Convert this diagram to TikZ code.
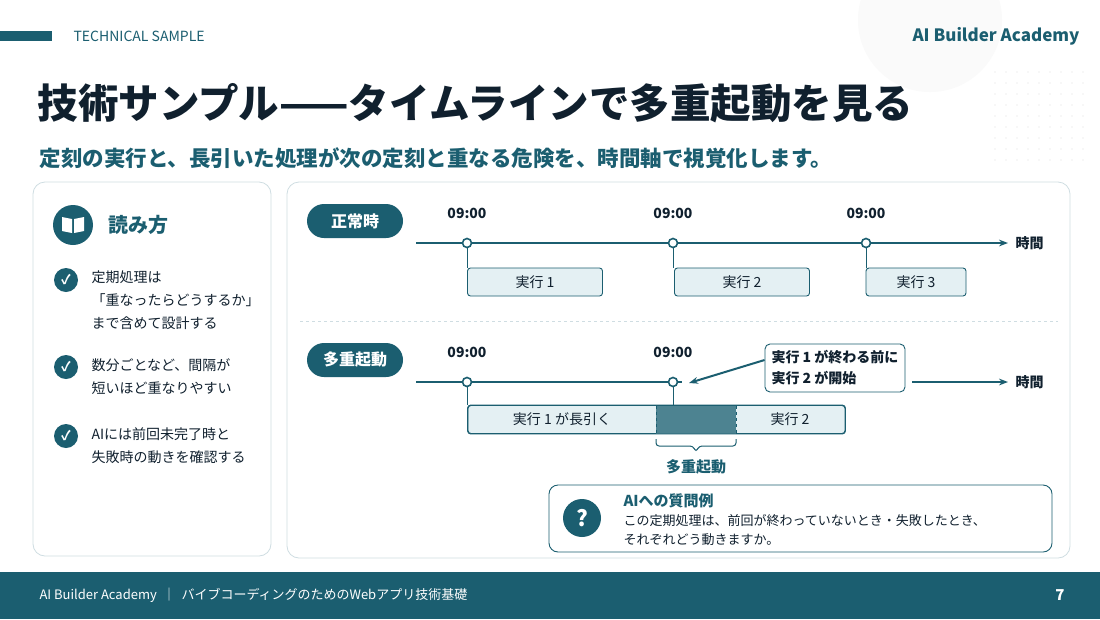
\documentclass[tikz,border=0pt]{standalone}
\usepackage{fontspec}
\setmainfont{Noto Sans CJK JP}
\usetikzlibrary{positioning,arrows.meta}
\definecolor{teal}{HTML}{1B5E70}
\definecolor{pale}{HTML}{E4F0F3}
\definecolor{navy}{HTML}{10202E}
\definecolor{rim}{HTML}{CFDDE2}
\begin{document}
\begin{tikzpicture}[x=1pt,y=-1pt,
        panel/.style = {draw=rim, rounded corners=12pt, fill=white, line width=0.8pt},
        pill/.style = {fill=teal, text=white, rounded corners=17pt, minimum width=96pt, minimum height=34pt, font=\bfseries\fontsize{16}{16}\selectfont},
        tick/.style = {circle, draw=teal, fill=white, line width=1.6pt, inner sep=0pt, minimum size=9pt},
        tlabel/.style = {font=\bfseries\fontsize{14}{14}\selectfont, text=navy},
        run/.style = {draw=teal, fill=pale, rounded corners=3pt, line width=0.9pt, minimum height=28pt, font=\fontsize{14}{14}\selectfont, text=navy},
        chk/.style = {circle, fill=teal, text=white, inner sep=0pt, minimum size=24pt, font=\bfseries\fontsize{13}{13}\selectfont},
        item/.style = {anchor=north west, align=left, font=\fontsize{14}{23}\selectfont, text=navy},
        axis/.style = {draw=teal, line width=2pt},
    ]
    \useasboundingbox (0,0) rectangle (1100,619);
    \fill[white] (0,0) rectangle (1100,619);
    \fill[gray!4] (930,20) circle (72);
    \foreach \i in {0,...,8} {\foreach \j in {0,...,8} {\fill[gray!25] (995+\i*11,72+\j*11) circle (0.7);}}
    % header
    \fill[teal] (0,31) rectangle (52,41);
    \node[anchor=west, text=teal, font=\fontsize{14}{14}\selectfont] (tag) at (70,36) {TECHNICAL SAMPLE};
    \node[anchor=east, text=teal, font=\bfseries\fontsize{17}{17}\selectfont] (brand) at (1083,36) {AI Builder Academy};
    \node[anchor=west, text=navy, font=\bfseries\fontsize{40.5}{40}\selectfont] (title) at (34,103) {技術サンプル——タイムラインで多重起動を見る};
    \node[anchor=west, text=teal, font=\bfseries\fontsize{21.5}{22}\selectfont] (sub) at (36,158) {定刻の実行と、長引いた処理が次の定刻と重なる危険を、時間軸で視覚化します。};
    % left panel
    \draw[panel] (33,182) rectangle (271,556);
    \node[circle, fill=teal, minimum size=40pt] (book) at (73,225) {};
    \fill[white] (62,217) -- (72,219) -- (72,233) -- (62,231) -- cycle (84,217) -- (74,219) -- (74,233) -- (84,231) -- cycle;
    \node[right=12pt of book, text=teal, font=\bfseries\fontsize{20}{20}\selectfont] (how) {読み方};
    \node[chk] (c1) at (66,280) {✓};
    \node[chk] (c2) at (66,367) {✓};
    \node[chk] (c3) at (66,436) {✓};
    \node[item] (t1) at (88,267) {定期処理は\\「重なったらどうするか」\\まで含めて設計する};
    \node[item] (t2) at (88,355) {数分ごとなど、間隔が\\短いほど重なりやすい};
    \node[item] (t3) at (88,424) {AIには前回未完了時と\\失敗時の動きを確認する};
    % right panel
    \draw[panel] (287,182) rectangle (1070,558);
    \node[pill] (normal) at (355,221) {正常時};
    \node[pill] (multi) at (355,360) {多重起動};
    % normal timeline
    \coordinate (n0) at (416,243);
    \coordinate (n1) at (1008,243);
    \draw[axis, -{Stealth[length=9pt]}] (n0) -- (n1);
    \node[right=4pt of n1, tlabel] (ntime) {時間};
    \foreach \x/\k in {467/1,673/2,866/3} {
        \node[tick] (nt\k) at (\x,243) {};
        \node[tlabel] at (\x,213) {09:00};
    }
    \node[run, minimum width=135pt] (r1) at (535,282) {実行 1};
    \node[run, minimum width=135pt] (r2) at (742,282) {実行 2};
    \node[run, minimum width=100pt] (r3) at (916,282) {実行 3};
    \foreach \k in {1,2,3} {\draw[teal, line width=0.9pt] (nt\k) -- (nt\k |- r1.north);}
    \draw[rim, dashed, line width=1pt] (300,321) -- (1058,321);
    % overlap timeline
    \coordinate (m0) at (416,382);
    \coordinate (m1) at (682,382);
    \coordinate (m2) at (912,382);
    \coordinate (m3) at (1008,382);
    \draw[axis] (m0) -- (m1);
    \draw[axis, -{Stealth[length=9pt]}] (m2) -- (m3);
    \node[right=4pt of m3, tlabel] (mtime) {時間};
    \node[tick] (mt1) at (467,382) {};
    \node[tick] (mt2) at (673,382) {};
    \node[tlabel] at (467,352) {09:00};
    \node[tlabel] at (673,352) {09:00};
    \node[draw=teal, rounded corners=5pt, line width=0.9pt, fill=white, align=left, font=\bfseries\fontsize{14}{21}\selectfont, text=navy, minimum width=140pt, minimum height=48pt] (note) at (835,368) {実行 1 が終わる前に\\実行 2 が開始};
    \draw[teal, line width=2pt, -{Stealth[length=9pt]}] (note.west) ++(0,-8) coordinate (nw) -- (689,383);
    \node[run, minimum width=377pt] (long) at (656.5,419.5) {};
    \fill[teal!75!pale] (656,405.5) rectangle (736,433.5);
    \draw[teal, dashed, line width=0.9pt] (656,405.5) -- (656,433.5) (736,405.5) -- (736,433.5);
    \draw[teal, line width=0.9pt, rounded corners=3pt] (long.south west) rectangle (long.north east);
    \node[font=\fontsize{14}{14}\selectfont, text=navy] at (562,419.5) {実行 1 が長引く};
    \node[font=\fontsize{14}{14}\selectfont, text=navy] at (790,419.5) {実行 2};
    \draw[teal, line width=0.9pt] (mt1) -- (mt1 |- long.north);
    \draw[teal, line width=0.9pt] (mt2) -- (mt2 |- long.north);
    \draw[teal, line width=1pt, rounded corners=3pt] (656,439) -- (656,446) -- (693,446) -- (696,452) -- (699,446) -- (736,446) -- (736,439);
    \node[text=teal, font=\bfseries\fontsize{15}{15}\selectfont] (olap) at (696,467) {多重起動};
    % question box
    \draw[draw=teal, rounded corners=9pt, line width=0.9pt, fill=white] (549,485) rectangle (1052,552);
    \node[circle, fill=teal, minimum size=38pt, text=white, font=\bfseries\fontsize{22}{22}\selectfont] (q) at (582,518) {?};
    \node[anchor=west, text=teal, font=\bfseries\fontsize{15}{15}\selectfont] (qt) at (620,501) {AIへの質問例};
    \node[anchor=north west, align=left, text=navy, font=\fontsize{13}{19}\selectfont] (qx) at (620,511) {この定期処理は、前回が終わっていないとき・失敗したとき、\\それぞれどう動きますか。};
    % footer
    \fill[teal] (0,572) rectangle (1100,619);
    \node[anchor=west, text=white, font=\fontsize{13}{13}\selectfont] (foot) at (36,595) {AI Builder Academy \ ｜ \ バイブコーディングのためのWebアプリ技術基礎};
    \node[text=white, font=\bfseries\fontsize{15}{15}\selectfont] (page) at (1060,595) {7};
\end{tikzpicture}
\end{document}
